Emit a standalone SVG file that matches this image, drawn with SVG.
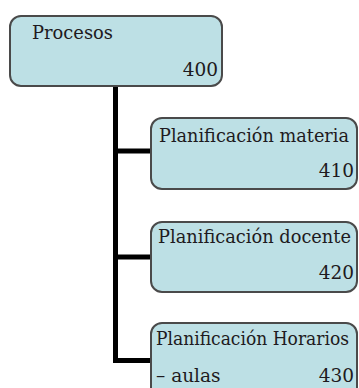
<svg xmlns="http://www.w3.org/2000/svg" width="359" height="388" viewBox="0 0 359 388">
<style>
.box{fill:#bde0e5;stroke:#4a4a4a;stroke-width:2}
.t{font-family:"DejaVu Serif","Liberation Serif",serif;font-size:18.5px;fill:#1e1a20}
.r{text-anchor:end}
.c{stroke:#000;stroke-width:5;fill:none}
</style>
<rect width="359" height="388" fill="#fff"/>
<g id="connectors">
<path class="c" d="M115.5 86 V360.5 H151"/>
<path class="c" d="M115.5 151 H151"/>
<path class="c" d="M115.5 257 H151"/>
</g>
<g id="n400">
<rect class="box" x="10" y="16" width="212" height="70" rx="11"/>
<text class="t" x="32" y="39" textLength="81" lengthAdjust="spacingAndGlyphs">Procesos</text>
<text class="t r" x="218" y="76">400</text>
</g>
<g id="n410">
<rect class="box" x="151" y="118" width="206" height="71" rx="11"/>
<text class="t" x="159" y="142" textLength="190" lengthAdjust="spacingAndGlyphs">Planificación materia</text>
<text class="t r" x="354" y="177">410</text>
</g>
<g id="n420">
<rect class="box" x="151" y="222" width="206" height="70" rx="11"/>
<text class="t" x="158" y="243" textLength="193" lengthAdjust="spacingAndGlyphs">Planificación docente</text>
<text class="t r" x="354" y="279">420</text>
</g>
<g id="n430">
<rect class="box" x="151" y="323" width="206" height="80" rx="11"/>
<text class="t" x="156" y="345" textLength="193" lengthAdjust="spacingAndGlyphs">Planificación Horarios</text>
<text class="t" x="156" y="382">– aulas</text>
<text class="t r" x="354" y="382">430</text>
</g>
</svg>
